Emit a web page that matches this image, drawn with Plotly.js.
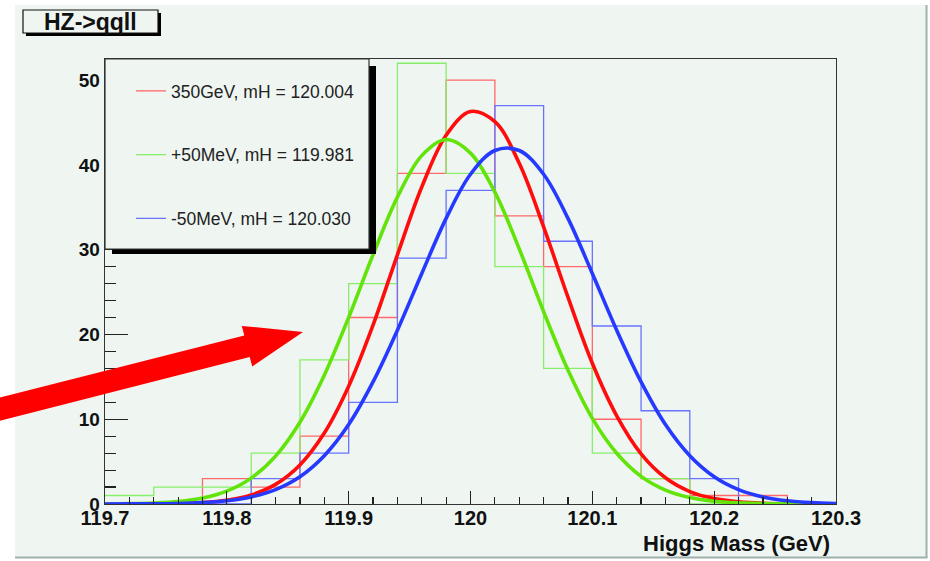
<!DOCTYPE html>
<html>
<head>
<meta charset="utf-8">
<script src="https://cdn.plot.ly/plotly-3.0.1.min.js"></script>
<style>
html,body{margin:0;padding:0;background:#ffffff;}
#chart{width:930px;height:561px;}
</style>
</head>
<body>
<div id="chart"></div>
<script>
// ---------------- data ----------------
var binEdges = [119.70,119.74,119.78,119.82,119.86,119.90,119.94,119.98,120.02,120.06,120.10,120.14,120.18,120.22,120.26,120.30];
var hist350 = [0,0,3,2,8,22,39,50,34,28,10,3,1,1,0];
var histPlus50 = [1,2,2,6,17,26,52,39,28,16,6,3,0,0,0];
var histMinus50 = [0,0,0,3,6,12,29,37,47,31,21,11,3,0,0];

var fitX = [119.70,119.72,119.74,119.76,119.78,119.80,119.82,119.84,119.86,119.88,119.90,119.92,119.94,119.96,119.98,120.00,120.02,120.04,120.06,120.08,120.10,120.12,120.14,120.16,120.18,120.20,120.22,120.24,120.26,120.28,120.30];
var fit350 = [0.00,0.01,0.02,0.06,0.17,0.45,1.07,2.32,4.61,8.37,13.9,21.1,29.4,37.4,43.5,46.3,45.1,40.2,32.7,24.4,16.6,10.4,5.92,3.09,1.47,0.64,0.26,0.09,0.03,0.01,0.00];
var fitPlus50 = [0.01,0.04,0.12,0.29,0.70,1.52,3.05,5.65,9.65,15.2,22.0,29.4,36.2,41.1,43.0,41.4,36.8,30.1,22.7,15.8,10.1,5.99,3.26,1.64,0.76,0.32,0.13,0.05,0.02,0.01,0.00];
var fitMinus50 = [0.00,0.01,0.02,0.06,0.16,0.38,0.84,1.70,3.22,5.70,9.37,14.4,20.5,27.2,33.7,38.9,41.7,41.7,38.9,33.7,27.2,20.5,14.4,9.37,5.70,3.22,1.70,0.84,0.38,0.16,0.06];

var seriesNames = ["350GeV, mH = 120.004", "+50MeV, mH = 119.981", "-50MeV, mH = 120.030"];
var xTickVals = [119.7,119.8,119.9,120.0,120.1,120.2,120.3];
var xTickText = ["119.7","119.8","119.9","120","120.1","120.2","120.3"];
var yTickVals = [0,10,20,30,40,50];
var yTickText = ["0","10","20","30","40","50"];
var titleText = "HZ->qqll";
var xTitleText = "Higgs Mass (GeV)";

// ---------------- layout helpers ----------------
var W = 930, H = 561, ML = 105, MR = 94, MT = 59, MB = 57;
var PW = W - ML - MR, PH = H - MT - MB;
function px(x){ return (x - ML) / PW; }
function py(y){ return (H - MB - y) / PH; }
function rectPx(x0,y0,x1,y1,fill,lineColor,lineWidth,layer){
  return {type:'rect', xref:'paper', yref:'paper', x0:px(x0), x1:px(x1), y0:py(y1), y1:py(y0),
    fillcolor:fill, line:{color:lineColor||'rgba(0,0,0,0)', width:lineWidth||0}, layer:layer||'above'};
}
function pathPx(pts){
  var s = '';
  for (var i=0;i<pts.length;i++){ s += (i===0?'M':'L') + px(pts[i][0]).toFixed(5) + ',' + py(pts[i][1]).toFixed(5) + ' '; }
  return s + 'Z';
}

var BG = 'rgb(239,246,242)';
var FONT = '"Liberation Sans", Arial, Helvetica, sans-serif';

function stepY(v){ return v.concat([v[v.length-1]]); }

var histColors = ['rgb(255,105,105)','rgb(135,238,105)','rgb(105,115,255)'];
var fitColors = ['rgb(255,12,12)','rgb(98,228,10)','rgb(38,58,255)'];

var traces = [
  {x:binEdges, y:stepY(hist350), type:'scatter', mode:'lines', line:{shape:'hv', color:histColors[0], width:1.3}, name:seriesNames[0], legendgroup:'a'},
  {x:binEdges, y:stepY(histPlus50), type:'scatter', mode:'lines', line:{shape:'hv', color:histColors[1], width:1.3}, name:seriesNames[1], legendgroup:'b'},
  {x:binEdges, y:stepY(histMinus50), type:'scatter', mode:'lines', line:{shape:'hv', color:histColors[2], width:1.3}, name:seriesNames[2], legendgroup:'c'},
  {x:fitX, y:fit350, type:'scatter', mode:'lines', line:{shape:'spline', smoothing:1, color:fitColors[0], width:3.6}, showlegend:false},
  {x:fitX, y:fitPlus50, type:'scatter', mode:'lines', line:{shape:'spline', smoothing:1, color:fitColors[1], width:3.6}, showlegend:false},
  {x:fitX, y:fitMinus50, type:'scatter', mode:'lines', line:{shape:'spline', smoothing:1, color:fitColors[2], width:3.6}, showlegend:false}
];

// arrow geometry (pixels)
var arrowPts = [[-8,399.5],[244.3,335.5],[241.8,325.9],[303,332],[252.2,366.5],[249.7,356.9],[-3,421.5]];

var shapes = [
  rectPx(15,5,926,557,BG,null,0,'below'),
  {type:'line', xref:'paper', yref:'paper', x0:px(926.5), x1:px(926.5), y0:py(5), y1:py(557.5), line:{color:'rgb(160,176,170)', width:2}, layer:'below'},
  {type:'line', xref:'paper', yref:'paper', x0:px(15), x1:px(927.5), y0:py(557.5), y1:py(557.5), line:{color:'rgb(160,176,170)', width:2}, layer:'below'},
  // title box
  rectPx(26,13,161,36,'#000000',null,0,'above'),
  rectPx(23,10,158,33,BG,'#111111',1.2,'above'),
  // legend box
  rectPx(112,66,376,254,'#000000',null,0,'above'),
  rectPx(105,59,369,249,BG,'#333333',1.2,'above')
];
// arrow
shapes.push({type:'path', xref:'paper', yref:'paper', path:pathPx(arrowPts), fillcolor:'rgb(255,0,0)', line:{width:0, color:'rgba(0,0,0,0)'}, layer:'above'});

var annotations = [
  {xref:'paper', yref:'paper', x:px(90.5), y:py(22), xanchor:'center', yanchor:'middle', showarrow:false,
   text:titleText, font:{family:FONT, size:23, color:'#111111', weight:'bold'}},
  {xref:'paper', yref:'paper', x:px(832), y:py(543), xanchor:'right', yanchor:'middle', showarrow:false,
   text:xTitleText, font:{family:FONT, size:22, color:'#111111', weight:'bold'}}
];

var layout = {
  width:W, height:H, autosize:false,
  margin:{l:ML, r:MR, t:MT, b:MB, pad:0},
  paper_bgcolor:'#ffffff', plot_bgcolor:BG,
  showlegend:true,
  legend:{x:px(131), y:py(73), xanchor:'left', yanchor:'top', bgcolor:'rgba(0,0,0,0)', borderwidth:0,
    traceorder:'grouped', tracegroupgap:38, font:{family:FONT, size:17.5, color:'#222222'}},
  xaxis:{range:[119.7,120.3], tickmode:'array', tickvals:xTickVals, ticktext:xTickText,
    ticks:'inside', ticklen:13, tickwidth:1.3, tickcolor:'#222222', ticklabelstandoff:-4,
    minor:{tickmode:'linear', tick0:119.7, dtick:0.02, ticks:'inside', ticklen:7, tickwidth:1.2, tickcolor:'#222222'},
    showgrid:false, zeroline:false, showline:true, mirror:true, linecolor:'#333333', linewidth:1.4,
    tickfont:{family:FONT, size:20, color:'#111111', weight:'bold'}, fixedrange:true},
  yaxis:{range:[0,52.5], tickmode:'array', tickvals:yTickVals, ticktext:yTickText,
    ticks:'inside', ticklen:23, tickwidth:1.3, tickcolor:'#222222',
    minor:{tickmode:'linear', tick0:0, dtick:2, ticks:'inside', ticklen:11, tickwidth:1.2, tickcolor:'#222222'},
    showgrid:false, zeroline:false, showline:true, mirror:true, linecolor:'#333333', linewidth:1.4,
    tickfont:{family:FONT, size:19, color:'#111111', weight:'bold'}, fixedrange:true},
  shapes:shapes,
  annotations:annotations
};

Plotly.newPlot('chart', traces, layout, {displayModeBar:false, staticPlot:true});
</script>
</body>
</html>
